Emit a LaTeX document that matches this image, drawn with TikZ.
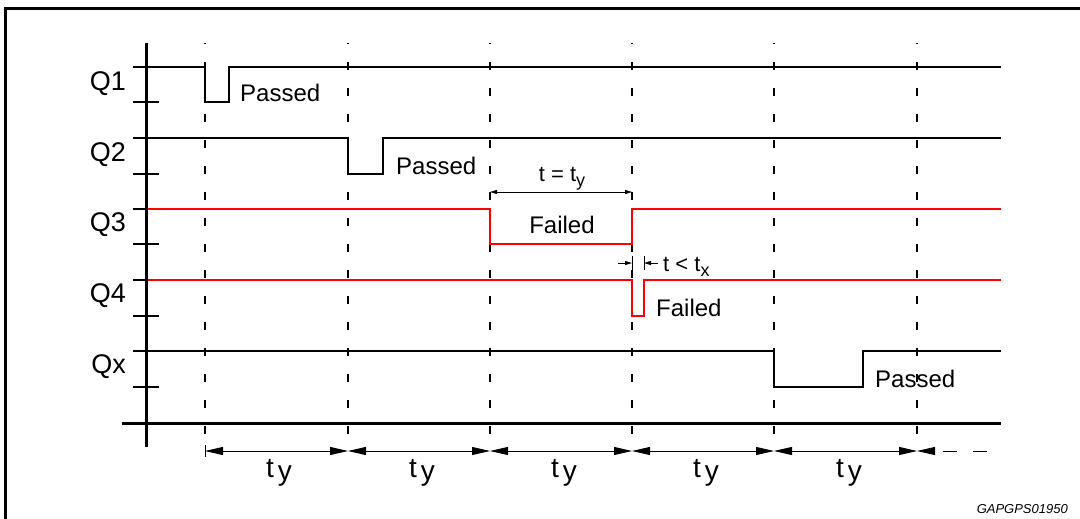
\documentclass[tikz,border=0pt]{standalone}
\usepackage{fontspec}
\setmainfont{Liberation Sans}
\usetikzlibrary{arrows.meta}

\tikzset{
  sig/.style={line width=2pt, line join=miter},
  axis/.style={line width=3pt},
  mark line/.style={line width=1.3pt, dash pattern=on 8pt off 18pt, dash phase=7pt},
  dimline/.style={line width=0.8pt},
  big tip/.style={line width=0.8pt, {Triangle[length=18pt,width=8pt]}-{Triangle[length=18pt,width=8pt]}},
  small tip/.style={line width=0.8pt, {Triangle[length=7pt,width=4pt]}-{Triangle[length=7pt,width=4pt]}},
  qlbl/.style={font=\fontsize{27}{27}\selectfont, inner sep=0pt},
  lbl/.style={font=\fontsize{24}{24}\selectfont, inner sep=0pt},
  tlbl/.style={font=\fontsize{28}{28}\selectfont, inner sep=0pt},
  dimlbl/.style={font=\fontsize{22}{22}\selectfont, inner sep=0pt}
}

\begin{document}
\begin{tikzpicture}[x=1pt,y=-1pt]
\useasboundingbox (0,0) rectangle (1080,519);
\begin{scope}
  \clip (0,0) rectangle (1080,519);
  \draw[line width=3pt] (5,9) rectangle (1110,560);
\end{scope}

% channel names
\node[qlbl, anchor=east] (q1) at (126,84) {Q1};
\node[qlbl, anchor=east] (q2) at (126,155) {Q2};
\node[qlbl, anchor=east] (q3) at (126,225) {Q3};
\node[qlbl, anchor=east] (q4) at (126,296) {Q4};
\node[qlbl, anchor=east] (qx) at (126,367) {Qx};

% time marks
\coordinate (t1) at (205,43);
\coordinate (t2) at (348,43);
\coordinate (t3) at (490,43);
\coordinate (t4) at (632,43);
\coordinate (t5) at (774,43);
\coordinate (t6) at (917,43);
\coordinate (b1) at (205,451);
\coordinate (b2) at (348,451);
\coordinate (b3) at (490,451);
\coordinate (b4) at (632,451);
\coordinate (b5) at (774,451);
\coordinate (b6) at (917,451);
\coordinate (bend) at (988,451);

\draw[mark line] (t1) -- (b1);
\draw[mark line] (t2) -- (b2);
\draw[mark line] (t3) -- (b3);
\draw[mark line] (t4) -- (b4);
\draw[mark line] (t5) -- (b5);
\draw[mark line] (t6) -- (b6);

% level ticks
\draw[sig] (133,67) -- (146,67);
\draw[sig] (133,102) -- (159,102);
\draw[sig] (133,138) -- (146,138);
\draw[sig] (133,174) -- (159,174);
\draw[sig] (133,209) -- (146,209);
\draw[sig] (133,244) -- (159,244);
\draw[sig] (133,280) -- (146,280);
\draw[sig] (133,316) -- (159,316);
\draw[sig] (133,351) -- (146,351);
\draw[sig] (133,387) -- (159,387);

% signals
\draw[sig] (146,67) -- (205,67) -- (205,102) -- (229,102) -- (229,67) -- (1001,67);
\draw[sig] (146,138) -- (348,138) -- (348,174) -- (383,174) -- (383,138) -- (1001,138);
\draw[sig, red] (146,209) -- (490,209) -- (490,244) -- (632,244) -- (632,209) -- (1001,209);
\draw[sig, red] (146,280) -- (632,280) -- (632,316) -- (644,316) -- (644,280) -- (1001,280);
\draw[sig] (146,351) -- (774,351) -- (774,387) -- (863,387) -- (863,351) -- (1001,351);

\node[lbl, anchor=base west] (p1) at (240,102) {Passed};
\node[lbl, anchor=base west] (p2) at (396,174) {Passed};
\node[lbl, anchor=base] (f3) at (562,233) {Failed};
\node[lbl, anchor=base west] (f4) at (656,316) {Failed};
\node[lbl, anchor=base west] (px) at (875,387) {Passed};

% axes
\draw[axis] (146,43) -- (146,447);
\draw[axis] (122,423) -- (1001,423);

% t = ty
\coordinate (ya) at (490,192);
\coordinate (yb) at (632,192);
\draw[small tip] (ya) -- (yb);
\node[dimlbl, anchor=base] (ty) at (562,181) {t = t\raisebox{-5pt}{\fontsize{18}{18}\selectfont y}};

% t < tx
\coordinate (xa) at (618,263);
\coordinate (xb) at (632,263);
\coordinate (xc) at (658,263);
\coordinate (xd) at (644,263);
\draw[dimline, -{Triangle[length=7pt,width=4pt]}] (xa) -- (xb);
\draw[dimline, -{Triangle[length=7pt,width=4pt]}] (xc) -- (xd);
\draw[dimline] (632,256) -- (632,270);
\draw[dimline] (644,256) -- (644,270);
\node[dimlbl, anchor=base west] (tx) at (663,271) {t < t\raisebox{-5pt}{\fontsize{18}{18}\selectfont x}};

% periods
\draw[dimline] (205,445) -- (205,457);
\draw[big tip] (b1) -- (b2);
\draw[big tip] (b2) -- (b3);
\draw[big tip] (b3) -- (b4);
\draw[big tip] (b4) -- (b5);
\draw[big tip] (b5) -- (b6);
\draw[dimline, {Triangle[length=18pt,width=8pt]}-, dash pattern=on 14pt off 16pt, dash phase=-8pt] (b6) -- (bend);

\node[tlbl, anchor=base] (y1) at (279,477) {t\kern4pt\raisebox{-3pt}{y}};
\node[tlbl, anchor=base] (y2) at (422,477) {t\kern4pt\raisebox{-3pt}{y}};
\node[tlbl, anchor=base] (y3) at (564,477) {t\kern4pt\raisebox{-3pt}{y}};
\node[tlbl, anchor=base] (y4) at (706,477) {t\kern4pt\raisebox{-3pt}{y}};
\node[tlbl, anchor=base] (y5) at (849,477) {t\kern4pt\raisebox{-3pt}{y}};

\node[anchor=base east, inner sep=0pt, font=\fontsize{13}{13}\selectfont\itshape] (code) at (1068,513) {GAPGPS01950};
\end{tikzpicture}
\end{document}
